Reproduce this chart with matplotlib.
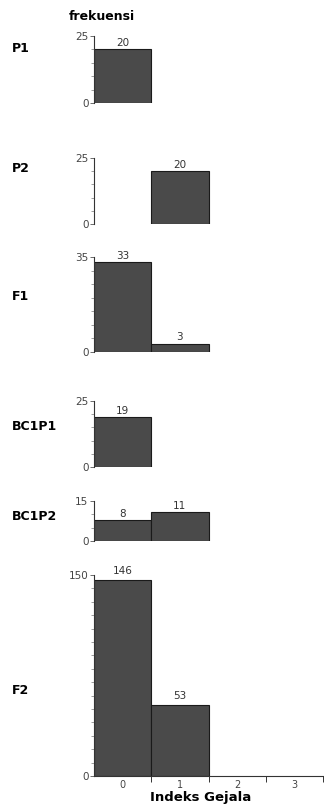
import matplotlib
matplotlib.use("Agg")
import matplotlib.pyplot as plt
from matplotlib.ticker import MultipleLocator, FixedLocator

plt.rcParams['font.family'] = ['DejaVu Sans']

categories = [0, 1, 2, 3]
groups = ["P1", "P2", "F1", "BC1P1", "BC1P2", "F2"]
values = {
    "P1":    [20, 0, 0, 0],
    "P2":    [0, 20, 0, 0],
    "F1":    [33, 3, 0, 0],
    "BC1P1": [19, 0, 0, 0],
    "BC1P2": [8, 11, 0, 0],
    "F2":    [146, 53, 0, 0],
}
ymax = {"P1": 25, "P2": 25, "F1": 35, "BC1P1": 25, "BC1P2": 15, "F2": 150}
ystep = {"P1": 5, "P2": 5, "F1": 5, "BC1P1": 5, "BC1P2": 5, "F2": 10}
# pixel top/bottom of each axes in the 324x807 image
boxes = {"P1": (36, 103), "P2": (158, 224), "F1": (257, 352),
         "BC1P1": (401, 467), "BC1P2": (501, 541), "F2": (575, 776)}
label_y = {"P1": 48, "P2": 169, "F1": 297, "BC1P1": 426, "BC1P2": 517, "F2": 690}

W, H = 324, 807
fig = plt.figure(figsize=(W / 100, H / 100), dpi=100)
fig.patch.set_facecolor("white")

x0, x1 = 94, 323
tick_color = "#444444"
for g in groups:
    top, bot = boxes[g]
    ax = fig.add_axes([x0 / W, 1 - bot / H, (x1 - x0) / W, (bot - top) / H])
    vals = values[g]
    xs = [c for c, v in zip(categories, vals) if v > 0]
    vs = [v for v in vals if v > 0]
    ax.bar(xs, vs, width=1.0, color="#4a4a4a", edgecolor="#1a1a1a", linewidth=0.8)
    for x, v in zip(xs, vs):
        ax.text(x, v + ymax[g] * 0.02, str(v), ha="center", va="bottom",
                fontsize=7.5, color="#333333")
    ax.set_xlim(-0.5, 3.5)
    ax.set_ylim(0, ymax[g])
    for s in ["top", "right"]:
        ax.spines[s].set_visible(False)
    ax.spines["left"].set_color("#333333")
    ax.spines["left"].set_linewidth(0.8)
    ax.yaxis.set_major_locator(FixedLocator([0, ymax[g]]))
    ax.yaxis.set_minor_locator(MultipleLocator(ystep[g]))
    ax.tick_params(axis="y", which="major", length=3, width=0.6, pad=1,
                   labelsize=7.5, labelcolor=tick_color, color="#555555")
    ax.tick_params(axis="y", which="minor", length=2.5, width=0.5, color="#777777")
    if g == "F2":
        ax.spines["bottom"].set_color("#333333")
        ax.spines["bottom"].set_linewidth(0.8)
        ax.xaxis.set_major_locator(FixedLocator([0.5, 1.5, 2.5, 3.5]))
        ax.xaxis.set_minor_locator(FixedLocator(categories))
        ax.xaxis.set_major_formatter(plt.NullFormatter())
        ax.xaxis.set_minor_formatter(plt.FixedFormatter([str(c) for c in categories]))
        ax.tick_params(axis="x", which="major", length=4, width=0.7, color="#333333")
        ax.tick_params(axis="x", which="minor", length=0, labelsize=7,
                       labelcolor=tick_color, pad=3)
        ax.set_xlabel("Indeks Gejala", fontsize=9.5, fontweight="bold")
        ax.xaxis.set_label_coords((201 - x0) / (x1 - x0), -0.075)
    else:
        ax.spines["bottom"].set_visible(False)
        ax.set_xticks([])
    fig.text(12 / W, 1 - label_y[g] / H, g, fontsize=9, fontweight="bold",
             ha="left", va="center")

fig.text(102 / W, 1 - 16 / H, "frekuensi", fontsize=9, fontweight="bold",
         ha="center", va="center")

fig.savefig("out.png", dpi=100)
